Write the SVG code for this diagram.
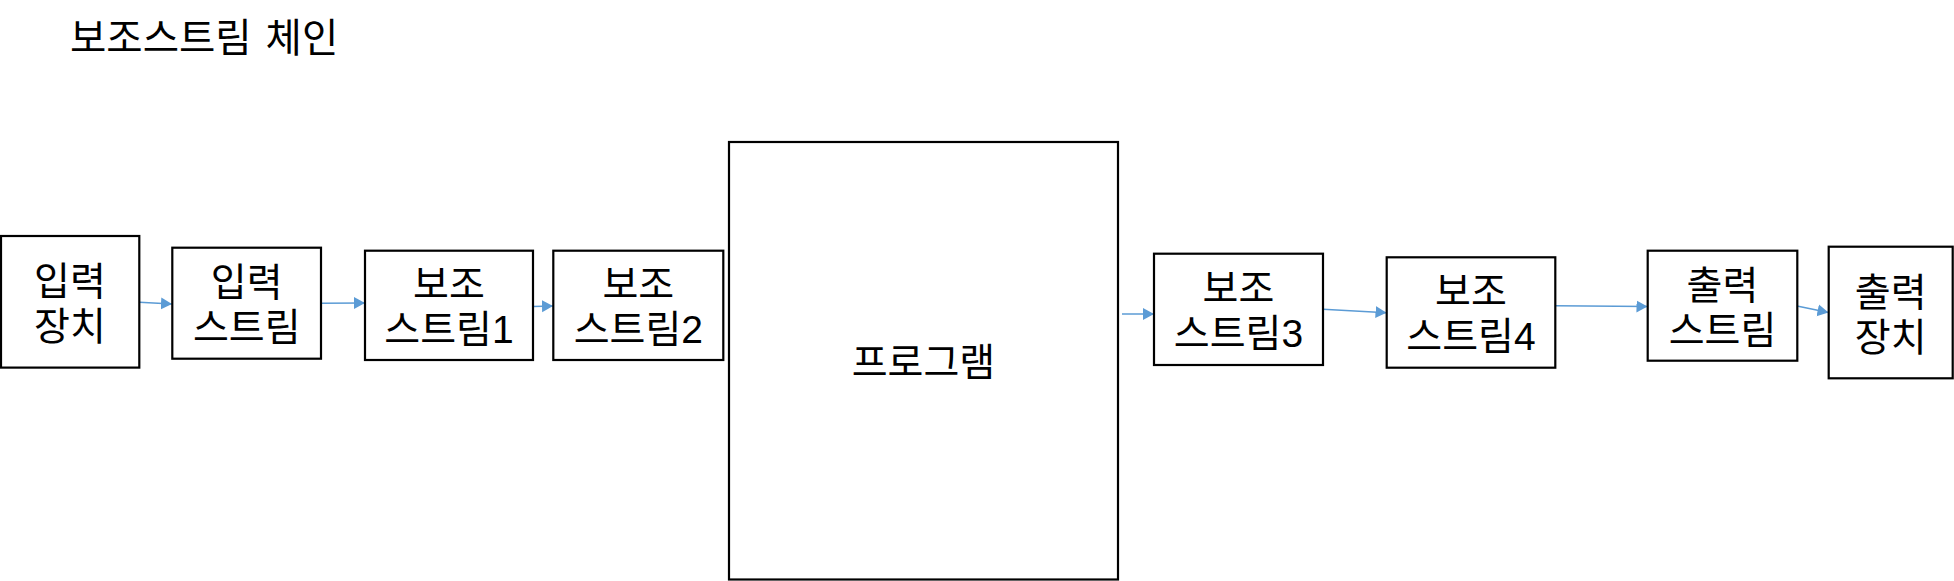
<svg xmlns="http://www.w3.org/2000/svg" width="1954" height="581" viewBox="0 0 1954 581">
<style>
.box{fill:#fff;stroke:#000;stroke-width:2.2}
.t{font-family:"Liberation Sans","Noto Sans CJK KR",sans-serif;font-size:39px;fill:#000;text-anchor:middle}
.title{font-family:"Noto Sans CJK KR","Noto Sans",sans-serif;font-size:39.5px;fill:#000;word-spacing:5px}
.c{stroke:#5B9BD5;stroke-width:1.5;fill:none;marker-end:url(#ah)}
</style>
<defs>
<marker id="ah" markerUnits="userSpaceOnUse" markerWidth="12" markerHeight="13" refX="11" refY="6" orient="auto" viewBox="0 0 12 12">
<path d="M0,0 L11,6 L0,12 z" fill="#5B9BD5"/>
</marker>
</defs>
<rect width="1954" height="581" fill="#fff"/>
<text class="title" x="70" y="51.5">보조스트림 체인</text>
<g id="connectors">
<line class="c" x1="139.5" y1="302.3" x2="172" y2="304"/>
<line class="c" x1="321" y1="303.3" x2="365" y2="303"/>
<line class="c" x1="533" y1="306.5" x2="553" y2="306"/>
<line class="c" x1="1122" y1="314" x2="1154" y2="314"/>
<line class="c" x1="1323" y1="309.3" x2="1386.5" y2="312.7"/>
<line class="c" x1="1555" y1="305.7" x2="1647.5" y2="306.5"/>
<line class="c" x1="1797" y1="306" x2="1828.5" y2="312.5"/>
</g>
<g id="n1"><rect class="box" x="1" y="236" width="138.3" height="131.6"/><text class="t" y="294.5"><tspan x="70">입력</tspan><tspan x="70" dy="45">장치</tspan></text></g>
<g id="n2"><rect class="box" x="172.3" y="247.7" width="148.7" height="111"/><text class="t" y="296"><tspan x="246.7">입력</tspan><tspan x="246.7" dy="45">스트림</tspan></text></g>
<g id="n3"><rect class="box" x="365" y="250.7" width="168" height="109.3"/><text class="t" y="298"><tspan x="449">보조</tspan><tspan x="449" dy="45">스트림1</tspan></text></g>
<g id="n4"><rect class="box" x="553.3" y="250.7" width="170" height="109.3"/><text class="t" y="298"><tspan x="638.3">보조</tspan><tspan x="638.3" dy="45">스트림2</tspan></text></g>
<g id="n5"><rect class="box" x="729" y="142" width="389" height="437.5"/><text class="t" x="923.5" y="376">프로그램</text></g>
<g id="n6"><rect class="box" x="1154" y="253.7" width="169" height="111.3"/><text class="t" y="302"><tspan x="1238.5">보조</tspan><tspan x="1238.5" dy="45">스트림3</tspan></text></g>
<g id="n7"><rect class="box" x="1386.7" y="257.3" width="168.6" height="110.4"/><text class="t" y="305"><tspan x="1471">보조</tspan><tspan x="1471" dy="45">스트림4</tspan></text></g>
<g id="n8"><rect class="box" x="1647.7" y="250.7" width="149.6" height="110"/><text class="t" y="298.5"><tspan x="1722.5">출력</tspan><tspan x="1722.5" dy="45">스트림</tspan></text></g>
<g id="n9"><rect class="box" x="1828.7" y="246.7" width="124" height="131.6"/><text class="t" y="305.5"><tspan x="1890.7">출력</tspan><tspan x="1890.7" dy="45">장치</tspan></text></g>
</svg>
